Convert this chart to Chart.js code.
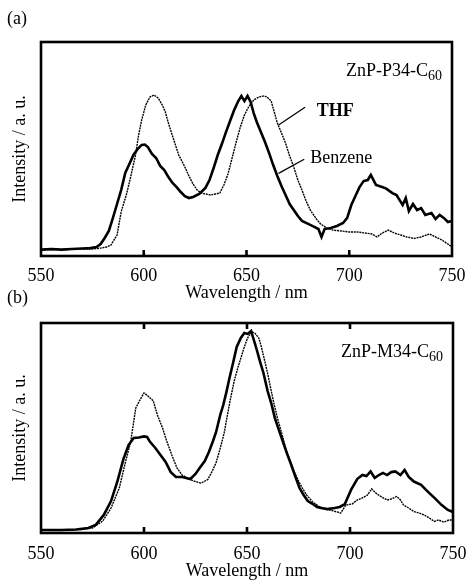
<!DOCTYPE html>
<html>
<head>
<meta charset="utf-8">
<script src="https://cdn.jsdelivr.net/npm/chart.js@4.4.0/dist/chart.umd.min.js"></script>
<style>
  html, body { margin: 0; padding: 0; background: #fff; }
  body { width: 469px; height: 582px; position: relative; overflow: hidden; }
  canvas { position: absolute; left: 0; }
  #chartA { top: 0; }
  #chartB { top: 285px; }
</style>
</head>
<body>
<canvas id="chartA" width="469" height="305"></canvas>
<canvas id="chartB" width="469" height="297"></canvas>
<script>
// emission spectra, intensity in arbitrary units (0-100 of the frame height)
const wavelengthTicks = [550, 600, 650, 700, 750];
const innerTicks = [600, 650, 700];

// (a) ZnP-P34-C60
const thfA_nm = [550,560,570,575,579,582,584,587,589,591.5, 593.5,596,597.5,599,601,603,605,607,609,610.5,
  612,614,617,620,622,624,626,628,630,632.5, 635,637,639,641,643,645,647,649,651,653.5,
  656,658.5,660,662,663.5,665,667,669,671,673, 675,677,679,681,684,686,689,692,696,700,
  704,708,711,713.5,716,719,722,725,728,731.5, 735,739,742,745,748,750];
const thfA = [2.8,3.0,3.3,3.3,3.7,4.2,5.1,9.8,20.6,28.5, 36.4,47.2,56.5,63.6,70.6,74.3,75.2,73.8,70.6,67.3,
  62.1,56.1,47.2,41.6,37.4,33.6,30.8,29.4,29.0,28.5, 29.0,29.4,33.2,38.3,45.8,53.3,60.3,65.9,69.6,72.9,
  74.3,74.8,74.3,72.4,67.3,62.1,57.5,52.8,46.7,41.6, 35.5,30.8,25.7,21.5,17.3,15.0,13.1,12.1,11.7,11.2,
  11.2,10.7,10.3,8.9,10.7,12.1,10.7,9.8,8.9,8.2, 8.9,10.3,8.9,7.5,5.6,4.2];

const benzeneA_nm = [550,555,560,565,570,574,577,579,581,583, 585,587,589,591,593,595,597,599,600.5,602,
  604,606,608,610,612,614,616,618,620,622, 624,627,630,632,634,636,638,640,642,644,
  646,647.5,649,650.5,652,653.5,655,657,659,661, 663,665,667,669,671,673,675,677,680,683,
  685,686.5,688,691,694,697,699,701,703,705, 707,709,710.5,713,716,718,721,723,726,727.5,
  729,731,733,735,737,740,742,744,746,748, 750];
const benzeneA = [3.0,3.3,3.0,3.3,3.5,3.7,4.2,5.6,8.4,11.7, 17.8,24.3,30.8,38.8,43.0,47.2,50.0,51.9,52.1,50.9,
  47.7,45.8,42.1,40.2,36.9,34.1,32.2,29.9,28.0,27.1, 27.6,29.0,31.8,35.5,41.1,47.2,52.3,57.9,63.1,68.2,
  72.4,74.8,72.4,74.8,72.0,66.8,62.6,57.9,53.3,48.1, 42.5,37.4,32.7,28.5,24.3,21.5,18.7,16.4,15.0,13.6,
  12.6,8.9,12.6,13.1,14.0,15.4,17.8,23.8,28.0,32.2, 35.0,35.5,37.9,33.2,32.2,31.5,29.4,28.5,23.8,27.1,
  21.0,24.3,21.5,22.4,19.2,20.1,17.3,19.2,17.8,15.9, 16.4];

// (b) ZnP-M34-C60
const thfB_nm = [550,560,570,575,580,584,588,591,593.5,596, 598,600,602,604.5,606.5,609,611,613.5,616,618.5,
  621,624,627.5,629,631,633,635,637,639,640.5, 642,643.7,645.5,647,648.5,650.2,652.3,654,655.8,657,
  658.3,660,661.5,663,664.8,667,668.8,671,672.9,675, 676.9,679,681.8,684.5,688,692,695.5,698,701,703.5,
  706,708.5,710.5,713,715.5,718,720,722.7,724.5,726, 728.5,731,733.5,736,738.5,741,743,745.5,748,750];
const thfB = [1.4,1.4,1.7,2.4,5.7,11.9,21.4,33.8,43.3,59.5, 63.3,66.7,65.2,62.9,56.2,50.0,43.8,37.1,31.0,27.6,
  26.2,24.8,23.8,24.4,25.5,29.2,33.5,40.3,48.0,56.2, 64.0,72.0,78.5,83.2,88.0,92.7,95.9,95.0,92.7,88.5,
  83.2,76.0,68.9,62.0,54.6,47.0,40.3,34.0,29.2,24.8, 21.3,18.0,14.9,12.9,11.4,10.5,9.5,13.3,13.8,15.7,
  16.7,18.1,21.0,18.6,17.1,15.7,16.2,17.4,15.7,13.3, 11.9,10.2,9.5,8.6,7.1,5.5,6.2,5.2,6.2,6.2];

const benzeneB_nm = [550,560,567,573,576.5,580.5,584,587,590,592.5, 595,597.5,600,601.5,603,605.5,608,610.5,613,615.5,
  618.5,622.5,625,627,629.5,631.5,633.5,635,637,638.5, 640,641.5,643,645,647,648.7,650.3,652,653,654.5,
  656.5,658,660,662,663.5,665.5,667.5,669.5,671.5,673.5, 675.5,677.5,679.5,682,684,686,689,692.5,695,697.5,
  700.5,703.5,706,708,710,712,714,716,718,720, 722,724.5,726.5,728.5,731,734.5,738,741,744.5,747.5, 750];
const benzeneB = [1.4,1.4,1.7,2.4,3.8,8.6,15.2,24.3,35.2,41.9, 45.2,45.5,46.0,45.7,43.3,40.5,37.1,33.8,29.0,26.7,
  26.7,25.7,28.1,31.0,34.3,38.6,43.8,48.1,56.2,61.0, 67.1,73.8,80.0,88.6,92.9,95.2,94.8,96.2,92.9,88.1,
  81.0,76.2,67.6,61.0,54.8,49.0,43.3,37.6,32.4,26.7, 21.4,18.1,15.2,13.8,12.4,11.9,11.4,11.9,12.4,13.8,
  20.5,25.7,27.6,27.1,29.3,26.2,27.6,28.6,27.6,29.0, 29.3,27.6,30.0,26.7,24.5,22.9,19.5,16.7,13.3,11.0, 10.0];

const SERIF = "'Liberation Serif', 'Times New Roman', serif";

function toPoints(xs, ys) {
  return xs.map((x, i) => ({ x: x, y: ys[i] }));
}

// box frame plus short inward ticks
const framePlugin = {
  id: 'frame',
  afterDatasetsDraw(chart, args, opts) {
    const { ctx, chartArea: a, scales: { x } } = chart;
    ctx.save();
    ctx.strokeStyle = '#000';
    ctx.lineWidth = 2.6;
    ctx.strokeRect(a.left, a.top, a.right - a.left, a.bottom - a.top);
    ctx.beginPath();
    innerTicks.forEach(v => {
      const px = x.getPixelForValue(v);
      ctx.moveTo(px, a.bottom);
      ctx.lineTo(px, a.bottom - 6);
      if (opts.topTicks) {
        ctx.moveTo(px, a.top);
        ctx.lineTo(px, a.top + 6);
      }
    });
    ctx.stroke();
    ctx.restore();
  }
};

// compound name (C with subscript 60) and the solvent callouts
const labelPlugin = {
  id: 'labels',
  afterDraw(chart, args, opts) {
    const { ctx, chartArea: a, scales: { x, y } } = chart;
    ctx.save();
    ctx.fillStyle = '#000';
    ctx.strokeStyle = '#000';
    ctx.textBaseline = 'alphabetic';
    ctx.textAlign = 'left';

    ctx.font = '14px ' + SERIF;
    const subW = ctx.measureText('60').width;
    ctx.font = '18px ' + SERIF;
    const mainW = ctx.measureText(opts.compound).width;
    const x0 = a.right - 10 - mainW - subW;
    const base = a.top + 34;
    ctx.fillText(opts.compound, x0, base);
    ctx.font = '14px ' + SERIF;
    ctx.fillText('60', x0 + mainW, base + 4);

    (opts.callouts || []).forEach(c => {
      ctx.font = (c.bold ? 'bold ' : '') + '18px ' + SERIF;
      ctx.fillText(c.text, x.getPixelForValue(c.at[0]), y.getPixelForValue(c.at[1]));
      ctx.lineWidth = 1.3;
      ctx.beginPath();
      ctx.moveTo(x.getPixelForValue(c.from[0]), y.getPixelForValue(c.from[1]));
      ctx.lineTo(x.getPixelForValue(c.to[0]), y.getPixelForValue(c.to[1]));
      ctx.stroke();
    });
    ctx.restore();
  }
};

function makeChart(id, cfg) {
  const font = { family: SERIF, size: 18, weight: 'normal' };
  return new Chart(document.getElementById(id), {
    type: 'line',
    data: {
      datasets: [
        {
          label: 'THF',
          data: toPoints(cfg.thfNm, cfg.thf),
          borderColor: '#000',
          borderWidth: 1.4,
          borderDash: [2, 0.8]
        },
        {
          label: 'Benzene',
          data: toPoints(cfg.benzeneNm, cfg.benzene),
          borderColor: '#000',
          borderWidth: 2.6
        }
      ]
    },
    options: {
      responsive: false,
      animation: false,
      layout: { padding: { left: 7, right: cfg.padRight, top: 0, bottom: cfg.padBottom } },
      elements: { point: { radius: 0 }, line: { tension: 0 } },
      plugins: {
        legend: { display: false },
        tooltip: { enabled: false },
        title: {
          display: true,
          text: cfg.tag,
          align: 'start',
          color: '#000',
          font: font,
          padding: { top: cfg.tagTop, bottom: cfg.tagBottom }
        },
        frame: { topTicks: cfg.topTicks },
        labels: { compound: cfg.compound, callouts: cfg.callouts }
      },
      scales: {
        x: {
          type: 'linear',
          min: wavelengthTicks[0],
          max: wavelengthTicks[wavelengthTicks.length - 1],
          grid: { display: false },
          border: { display: false },
          afterBuildTicks: s => { s.ticks = wavelengthTicks.map(v => ({ value: v })); },
          ticks: { padding: cfg.tickPad, color: '#000', font: font, maxRotation: 0, autoSkip: false },
          title: { display: true, text: 'Wavelength / nm', color: '#000', font: font, padding: 0 },
          afterFit: s => { s.height = cfg.xHeight; }
        },
        y: {
          min: 0,
          max: 100,
          grid: { display: false },
          border: { display: false },
          ticks: { display: false },
          title: { display: true, text: 'Intensity / a. u.', color: '#000', font: font, padding: { top: 2.2, bottom: 0 } },
          afterFit: s => { s.width = 34; }
        }
      }
    },
    plugins: [framePlugin, labelPlugin]
  });
}

makeChart('chartA', {
  tag: '(a)', compound: 'ZnP-P34-C',
  thfNm: thfA_nm, thf: thfA, benzeneNm: benzeneA_nm, benzene: benzeneA,
  padRight: 17, padBottom: 1.2, xHeight: 47.8, tagTop: 8.2, tagBottom: 12.2, tickPad: 1.2,
  topTicks: false,
  callouts: [
    { text: 'THF', bold: true, at: [684.2, 65.4], from: [678.5, 69.5], to: [665.6, 61.2] },
    { text: 'Benzene', bold: false, at: [681, 43.5], from: [678.1, 45.2], to: [665.6, 38.6] }
  ]
});

makeChart('chartB', {
  tag: '(b)', compound: 'ZnP-M34-C',
  thfNm: thfB_nm, thf: thfB, benzeneNm: benzeneB_nm, benzene: benzeneB,
  padRight: 16, padBottom: 0.2, xHeight: 48.8, tagTop: 2.2, tagBottom: 14.2, tickPad: 2.2,
  topTicks: true,
  callouts: []
});
</script>
</body>
</html>
